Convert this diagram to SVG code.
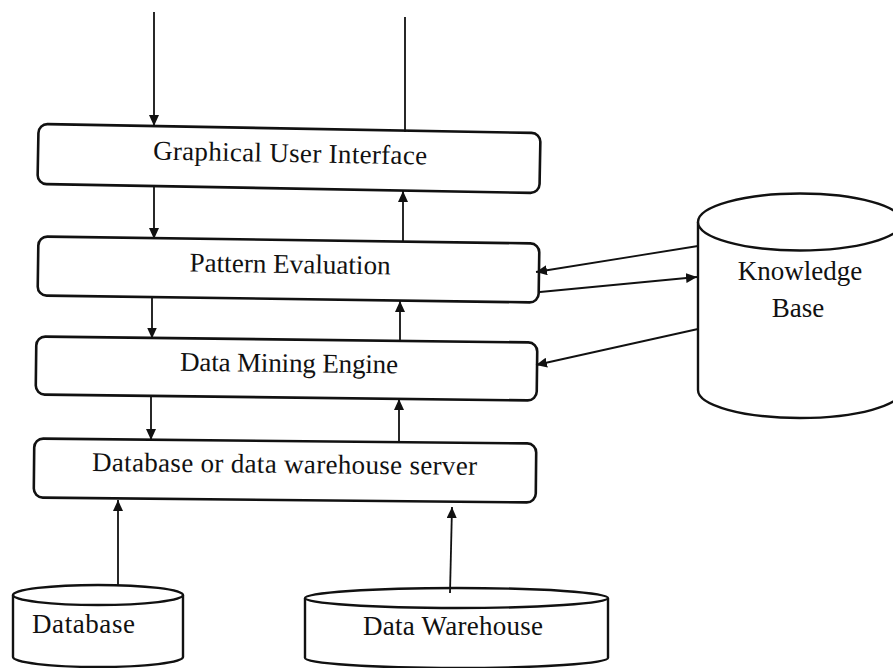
<svg xmlns="http://www.w3.org/2000/svg" width="893" height="668" viewBox="0 0 893 668">
<style>
.box{fill:#fff;stroke:#111;stroke-width:2.6}
.cyl{fill:#fff;stroke:#111;stroke-width:2.4}
.lbl{font-family:"Liberation Serif","Times New Roman",serif;font-size:27px;fill:#111}
.c{stroke:#111;stroke-width:1.8;fill:none}
</style>
<defs>
<marker id="arr" markerUnits="userSpaceOnUse" markerWidth="11" markerHeight="10" refX="11" refY="5" orient="auto">
<path d="M0,0 L11,5 L0,10 z" fill="#111"/>
</marker>
</defs>
<rect width="893" height="668" fill="#fff"/>

<g id="gui" transform="rotate(1.03 289 158.5)">
<rect class="box" x="38" y="128.5" width="502" height="60" rx="9"/>
<text class="lbl" x="290" y="162" text-anchor="middle" textLength="274">Graphical User Interface</text>
</g>
<g id="pattern-evaluation" transform="rotate(0.8 288.5 269.5)">
<rect class="box" x="38" y="240" width="501" height="59" rx="9"/>
<text class="lbl" x="290" y="273" text-anchor="middle" textLength="201">Pattern Evaluation</text>
</g>
<g id="data-mining-engine" transform="rotate(0.69 286.5 368.5)">
<rect class="box" x="36" y="339.5" width="501" height="58" rx="9"/>
<text class="lbl" x="289" y="372" text-anchor="middle" textLength="218">Data Mining Engine</text>
</g>
<g id="db-server" transform="rotate(0.57 285 470.5)">
<rect class="box" x="34" y="441" width="502" height="59" rx="9"/>
<text class="lbl" x="284.5" y="473" text-anchor="middle" textLength="385">Database or data warehouse server</text>
</g>

<g id="knowledge-base">
<path class="cyl" d="M698,222 L698,390 A102,28 0 0 0 902,390 L902,222"/>
<ellipse class="cyl" cx="800" cy="222" rx="102" ry="28.5"/>
<text class="lbl" x="800" y="280" text-anchor="middle">Knowledge</text>
<text class="lbl" x="798" y="317" text-anchor="middle">Base</text>
</g>
<g id="database">
<path class="cyl" d="M13,595 L13,657 A85,10 0 0 0 183,657 L183,595"/>
<ellipse class="cyl" cx="98" cy="595" rx="85" ry="10"/>
<text class="lbl" x="32" y="633" textLength="103">Database</text>
</g>
<g id="data-warehouse">
<path class="cyl" d="M305,598 L305,658 A151.5,10 0 0 0 608,658 L608,598"/>
<ellipse class="cyl" cx="456.5" cy="598" rx="151.5" ry="10"/>
<text class="lbl" x="453" y="635" text-anchor="middle" textLength="180">Data Warehouse</text>
</g>

<g id="connectors">
<line class="c" x1="154" y1="12" x2="154" y2="126" marker-end="url(#arr)"/>
<line class="c" x1="405" y1="17" x2="405" y2="132"/>
<line class="c" x1="154" y1="186" x2="154" y2="239" marker-end="url(#arr)"/>
<line class="c" x1="403" y1="242" x2="403" y2="191" marker-end="url(#arr)"/>
<line class="c" x1="152" y1="298" x2="152" y2="338.5" marker-end="url(#arr)"/>
<line class="c" x1="400" y1="341.5" x2="400" y2="301" marker-end="url(#arr)"/>
<line class="c" x1="151" y1="397" x2="151" y2="440" marker-end="url(#arr)"/>
<line class="c" x1="399" y1="443" x2="399" y2="399" marker-end="url(#arr)"/>
<line class="c" x1="118" y1="585" x2="118" y2="500" marker-end="url(#arr)"/>
<line class="c" x1="450" y1="593" x2="452" y2="507" marker-end="url(#arr)"/>
<line class="c" x1="698" y1="246" x2="536" y2="272" marker-end="url(#arr)"/>
<line class="c" x1="540" y1="292" x2="697" y2="277" marker-end="url(#arr)"/>
<line class="c" x1="698" y1="329" x2="536" y2="365" marker-end="url(#arr)"/>
</g>
</svg>
